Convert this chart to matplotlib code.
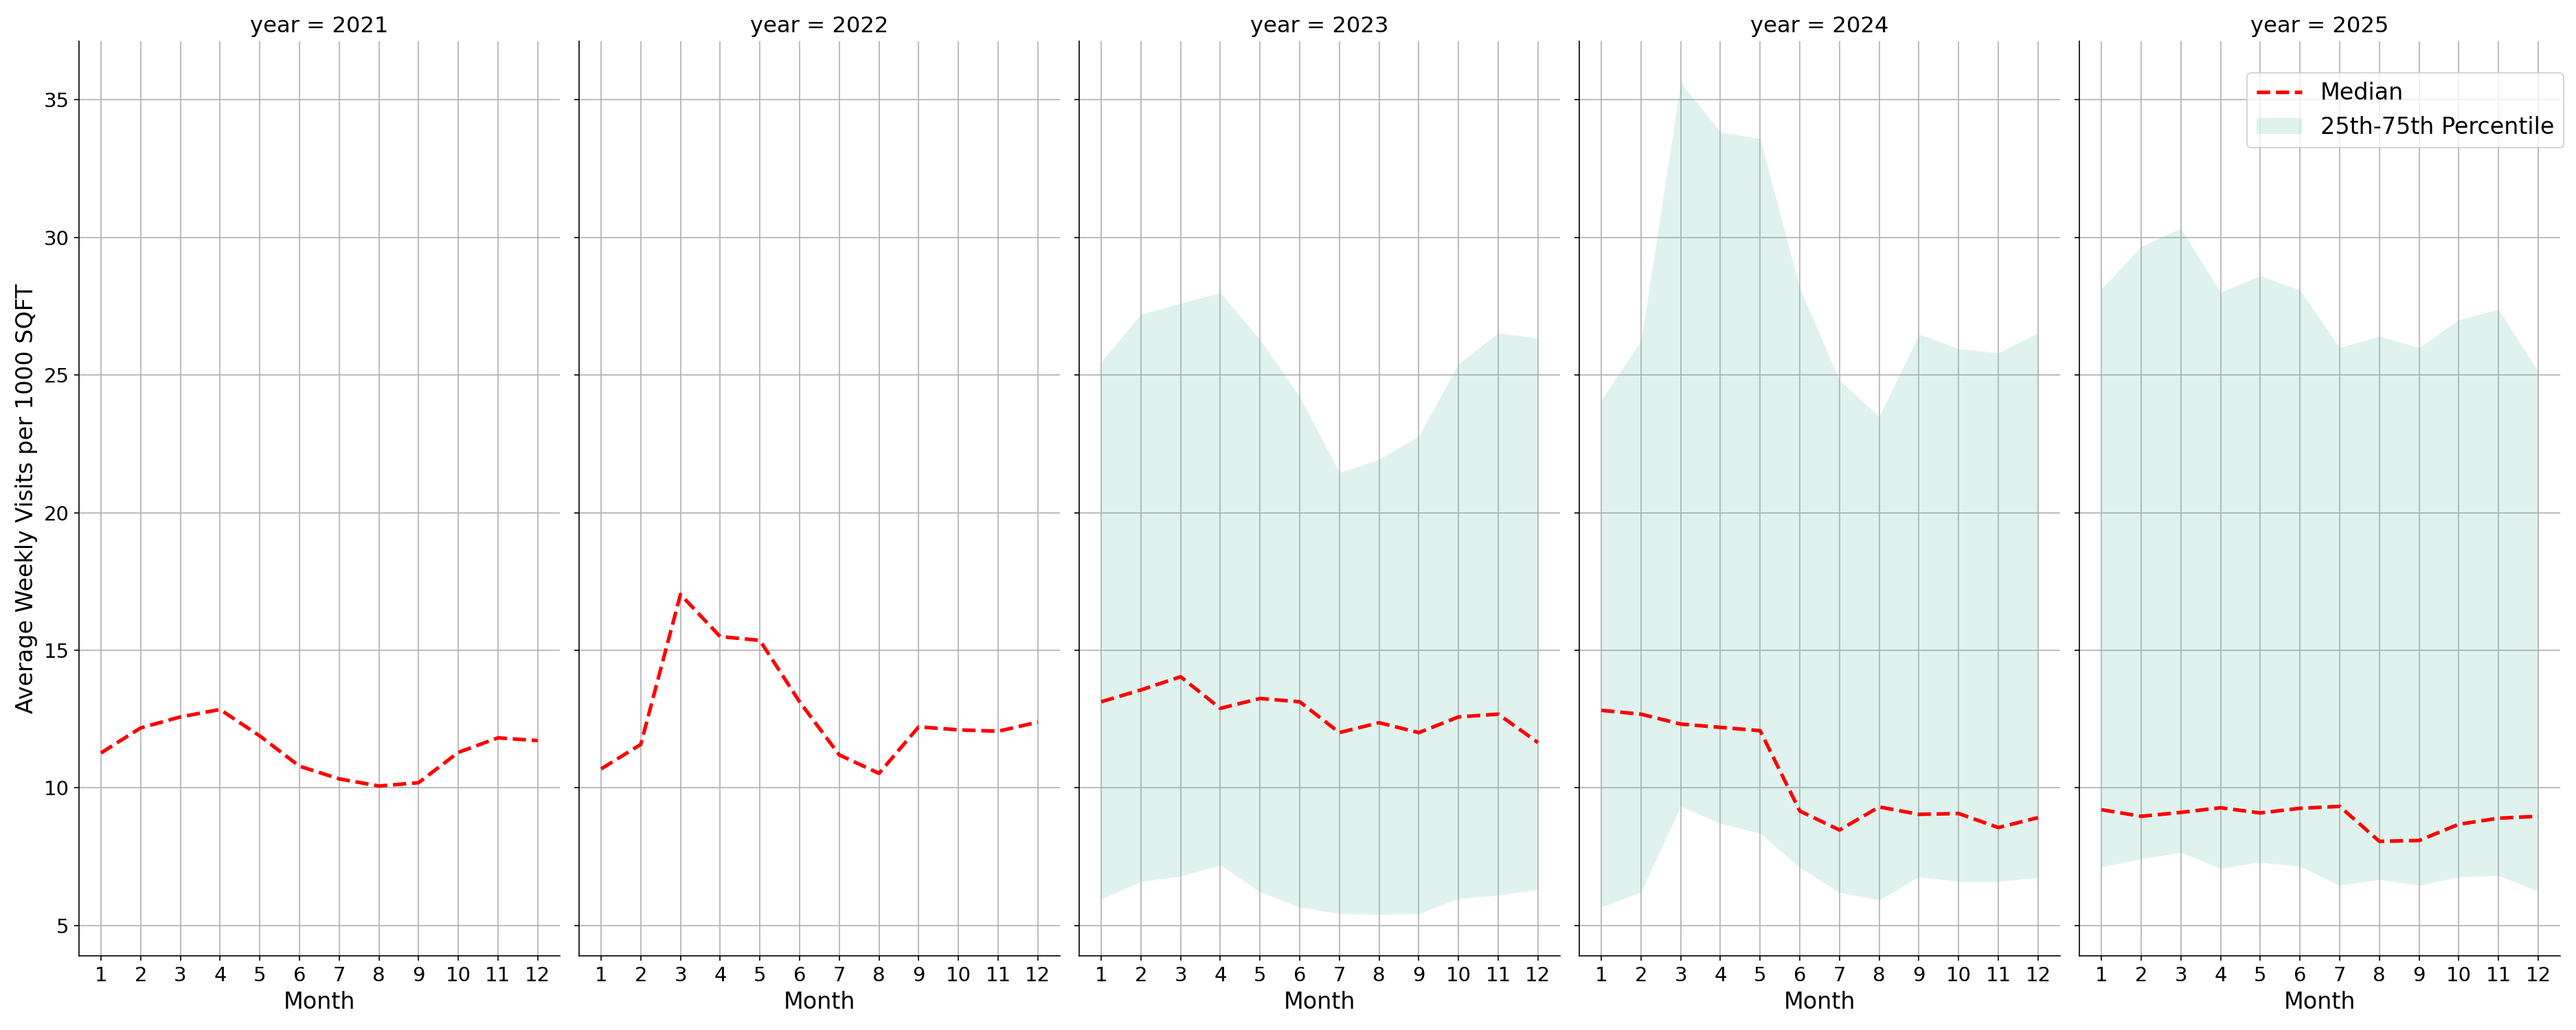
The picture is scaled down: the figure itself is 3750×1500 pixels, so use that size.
import numpy as np
import matplotlib
matplotlib.use("Agg")
import matplotlib.pyplot as plt

months = list(range(1, 13))
years = [2021, 2022, 2023, 2024, 2025]

median_2021 = [11.27, 12.18, 12.58, 12.85, 11.89, 10.79, 10.33, 10.07, 10.19, 11.29, 11.82, 11.72]
median_2022 = [10.69, 11.58, 17.03, 15.50, 15.36, 13.13, 11.20, 10.53, 12.22, 12.11, 12.06, 12.39]
median_2023 = [13.13, 13.56, 14.04, 12.89, 13.25, 13.13, 12.01, 12.37, 12.01, 12.58, 12.68, 11.65]
median_2024 = [12.82, 12.68, 12.32, 12.20, 12.08, 9.16, 8.47, 9.31, 9.04, 9.07, 8.56, 8.92]
median_2025 = [9.21, 8.97, 9.11, 9.28, 9.09, 9.26, 9.33, 8.06, 8.09, 8.68, 8.90, 8.97]

p25_2023 = [5.96, 6.60, 6.79, 7.20, 6.22, 5.67, 5.43, 5.41, 5.43, 5.98, 6.10, 6.32]
p75_2023 = [25.48, 27.20, 27.61, 27.99, 26.29, 24.21, 21.46, 21.94, 22.78, 25.41, 26.53, 26.34]
p25_2024 = [5.67, 6.22, 9.33, 8.71, 8.35, 7.11, 6.20, 5.93, 6.77, 6.60, 6.60, 6.75]
p75_2024 = [24.09, 26.24, 35.62, 33.83, 33.59, 28.16, 24.81, 23.49, 26.48, 25.96, 25.81, 26.53]
p25_2025 = [7.13, 7.42, 7.66, 7.08, 7.30, 7.15, 6.46, 6.67, 6.46, 6.77, 6.82, 6.24]
p75_2025 = [28.13, 29.67, 30.33, 28.01, 28.61, 28.09, 26.00, 26.41, 26.00, 27.01, 27.39, 25.14]

medians = [median_2021, median_2022, median_2023, median_2024, median_2025]
lows = [None, None, p25_2023, p25_2024, p25_2025]
highs = [None, None, p75_2023, p75_2024, p75_2025]

fig, axes = plt.subplots(1, 5, figsize=(25, 10), dpi=150, sharey=True)
fig.subplots_adjust(left=0.0307, right=0.9938, bottom=0.072, top=0.96, wspace=0.041)

for ax, year, med, lo, hi in zip(axes, years, medians, lows, highs):
    ax.grid(True, color="#b0b0b0", linewidth=0.8)
    ax.set_axisbelow(True)
    ax.plot(months, med, color="red", linestyle="--", linewidth=2.5, label="Median")
    if lo is not None:
        ax.fill_between(months, lo, hi, color="#66c2a5", alpha=0.2, linewidth=0,
                        label="25th-75th Percentile")
    ax.set_title(f"year = {year}", fontsize=15.5)
    ax.set_xlabel("Month", fontsize=16)
    ax.set_xticks(months)
    ax.tick_params(labelsize=14)
    ax.spines["top"].set_visible(False)
    ax.spines["right"].set_visible(False)

axes[0].set_ylabel("Average Weekly Visits per 1000 SQFT", fontsize=16)
axes[-1].legend(loc="upper right", fontsize=16, bbox_to_anchor=(1.031, 0.978))

fig.savefig("out.png", dpi=150)
